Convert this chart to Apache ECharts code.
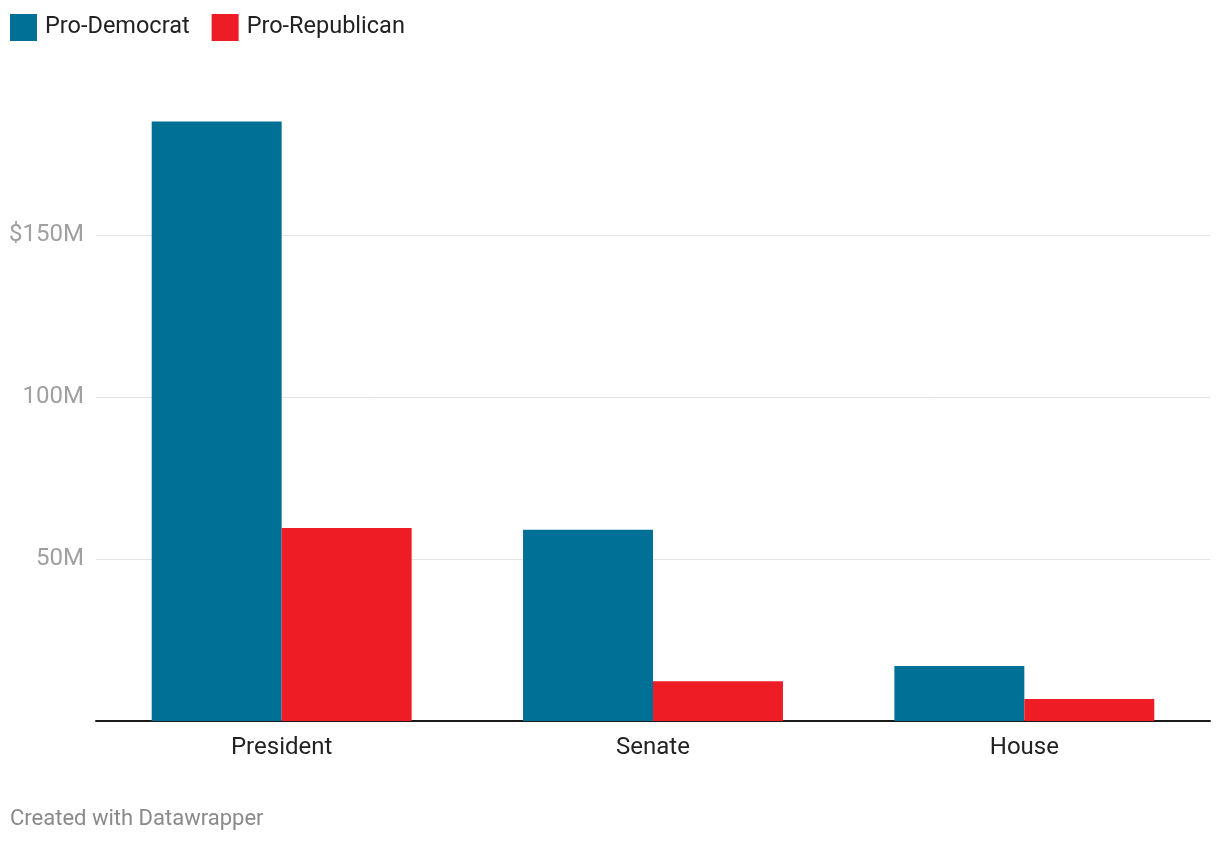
<!DOCTYPE html>
<html>
<head>
<meta charset="utf-8">
<script src="https://cdn.jsdelivr.net/npm/echarts@6/dist/echarts.min.js"></script>
<style>html,body{margin:0;padding:0;background:#fff}#c{width:1220px;height:844px}</style>
</head>
<body>
<div id="c"></div>
<script>
const categories = ['President', 'Senate', 'House'];
const proDemocrat = [185, 59, 17];
const proRepublican = [59.6, 12.3, 6.8];
const seriesNames = ['Pro-Democrat', 'Pro-Republican'];
const footerText = 'Created with Datawrapper';

const chart = echarts.init(document.getElementById('c'), null, {renderer: 'canvas'});
chart.setOption({
  animation: false,
  textStyle: {fontFamily: 'Roboto'},
  color: ['#007096', '#ee1c25'],
  legend: {
    left: 10, top: 14, padding: 0, itemWidth: 27, itemHeight: 27, itemGap: 22, icon: 'rect',
    textStyle: {fontFamily: 'Roboto', fontSize: 23.5, color: '#222', padding: [0, 0, 0, 3]},
    data: seriesNames
  },
  grid: {left: 96, right: 10, top: 73, bottom: 123, containLabel: false},
  xAxis: {
    type: 'category', data: categories,
    axisLine: {lineStyle: {color: '#1a1a1a', width: 2}},
    axisTick: {show: false},
    axisLabel: {fontFamily: 'Roboto', fontSize: 24, color: '#222', margin: 15}
  },
  yAxis: {
    type: 'value', min: 0, max: 200, interval: 50,
    axisLine: {show: false}, axisTick: {show: false},
    axisLabel: {
      fontFamily: 'Roboto', fontSize: 24, color: '#a0a0a0', margin: 12,
      formatter: function (v) { if (v === 0 || v === 200) return ''; return (v === 150 ? '$' : '') + v + 'M'; }
    },
    splitLine: {lineStyle: {color: ['#e3e3e3', '#e3e3e3', '#e3e3e3', '#e3e3e3', 'rgba(0,0,0,0)'], width: 1}}
  },
  series: [
    {name: seriesNames[0], type: 'bar', data: proDemocrat, barGap: '0%', barCategoryGap: '30%'},
    {name: seriesNames[1], type: 'bar', data: proRepublican, barGap: '0%', barCategoryGap: '30%'}
  ],
  graphic: [{
    type: 'text', left: 10, top: 808,
    style: {text: footerText, fontFamily: 'Roboto', fontSize: 22, fill: '#8a8a8a'}
  }]
});
</script>
</body>
</html>
